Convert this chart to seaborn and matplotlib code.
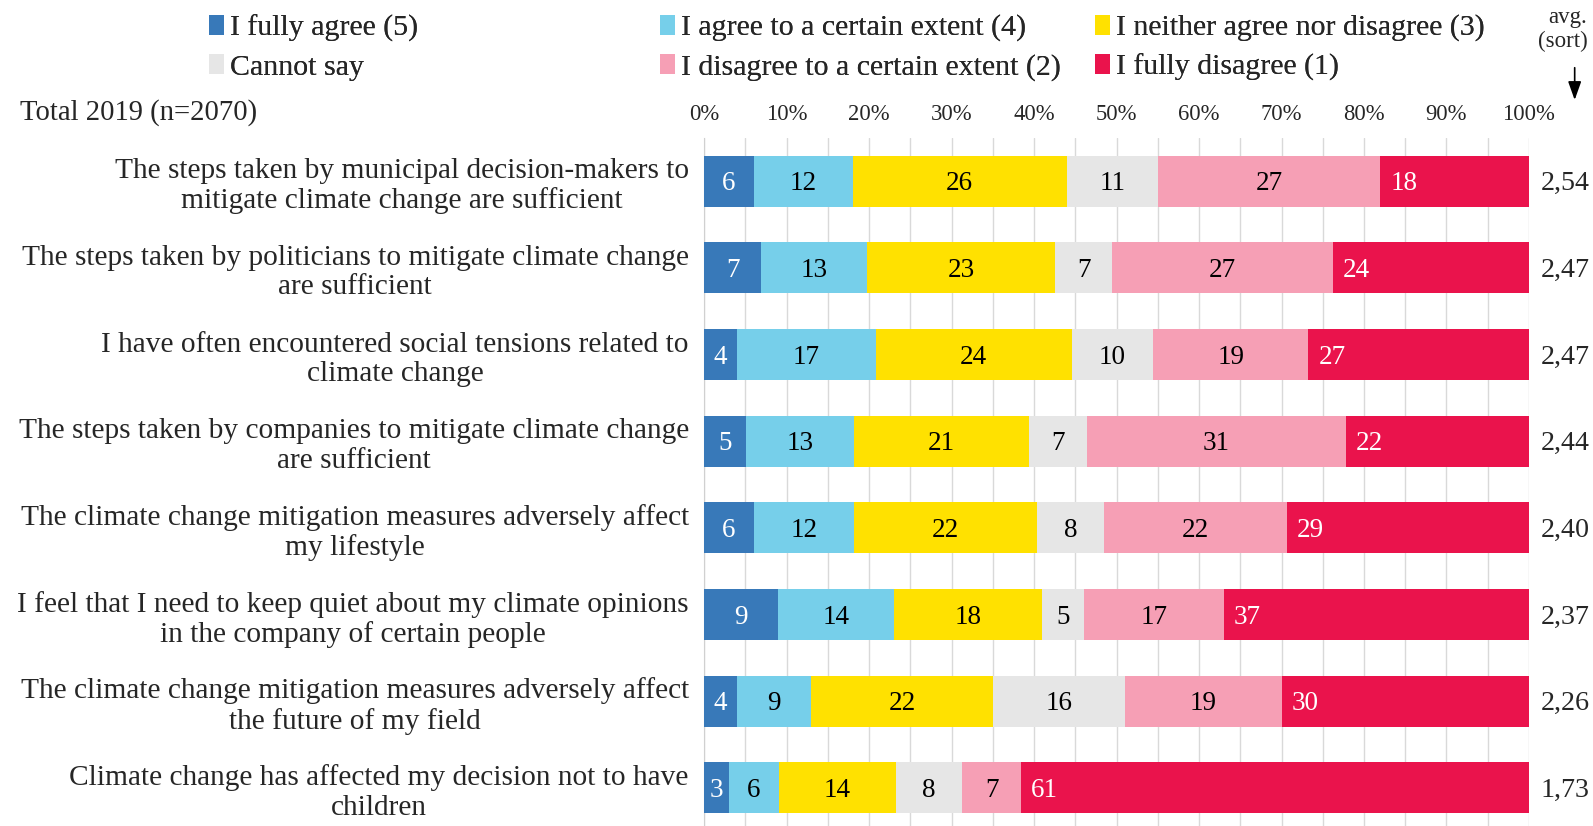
import numpy as np
import pandas as pd
import matplotlib
matplotlib.use("Agg")
import matplotlib.pyplot as plt
from matplotlib.patches import Patch, FancyArrowPatch
from matplotlib.ticker import MultipleLocator, FixedLocator
import seaborn as sns

sns.set_style("white")
plt.rcParams["font.family"] = ["Liberation Serif", "DejaVu Serif"]

statements = [
    "The steps taken by municipal decision-makers to\nmitigate climate change are sufficient",
    "The steps taken by politicians to mitigate climate change\nare sufficient",
    "I have often encountered social tensions related to\nclimate change",
    "The steps taken by companies to mitigate climate change\nare sufficient",
    "The climate change mitigation measures adversely affect\nmy lifestyle",
    "I feel that I need to keep quiet about my climate opinions\nin the company of certain people",
    "The climate change mitigation measures adversely affect\nthe future of my field",
    "Climate change has affected my decision not to have\nchildren",
]

responses = [
    "I fully agree (5)",
    "I agree to a certain extent (4)",
    "I neither agree nor disagree (3)",
    "Cannot say",
    "I disagree to a certain extent (2)",
    "I fully disagree (1)",
]

fully_agree = [6, 7, 4, 5, 6, 9, 4, 3]
agree_some = [12, 13, 17, 13, 12, 14, 9, 6]
neither = [26, 23, 24, 21, 22, 18, 22, 14]
cannot_say = [11, 7, 10, 7, 8, 5, 16, 8]
disagree_some = [27, 27, 19, 31, 22, 17, 19, 7]
fully_disagree = [18, 24, 27, 22, 29, 37, 30, 61]

averages = ["2,54", "2,47", "2,47", "2,44", "2,40", "2,37", "2,26", "1,73"]

colors = ["#3879b9", "#76cfea", "#ffe100", "#e6e6e6", "#f69fb5", "#ea134c"]
label_colors = ["white", "black", "black", "black", "black", "white"]

values = np.array([fully_agree, agree_some, neither, cannot_say,
                   disagree_some, fully_disagree], dtype=float)
shares = values / values.sum(axis=0)          # each row fills 100 %
cum = np.cumsum(shares, axis=0)

fig = plt.figure(figsize=(15.93, 8.26), dpi=100)
ax = fig.add_axes([0.442, 0.0, 0.5178, 0.833])

keys = [f"s{i}" for i in range(len(statements))]
# stacked bars: draw cumulative totals from the widest down
for k in range(len(responses) - 1, -1, -1):
    df = pd.DataFrame({"stmt": keys, "end": cum[k]})
    sns.barplot(data=df, x="end", y="stmt", order=keys, color=colors[k],
                saturation=1, width=0.59, linewidth=0, ax=ax, zorder=3)

# segment labels
for k in range(len(responses)):
    for i in range(len(statements)):
        start = cum[k, i] - shares[k, i]
        txt = f"{int(values[k, i])}"
        if k == len(responses) - 1:
            ax.text(start + 0.012, i + 0.03, txt, ha="left", va="center",
                    color=label_colors[k], fontsize=19.5, zorder=4)
        else:
            ax.text(start + shares[k, i] / 2, i + 0.03, txt, ha="center",
                    va="center", color=label_colors[k], fontsize=19.5, zorder=4)

ax.set_xlim(0, 1)
ax.set_ylim(7.44, -0.5)
ax.xaxis.set_major_locator(FixedLocator(np.arange(0, 1.01, 0.1)))
ax.xaxis.set_minor_locator(MultipleLocator(0.05))
ax.set_xticklabels([f"{p}%" for p in range(0, 101, 10)])
ax.xaxis.tick_top()
ax.tick_params(axis="x", which="both", length=0, pad=9, labelsize=16.3)
ax.grid(axis="x", which="both", color="#d9d9d9", linewidth=1, zorder=0)
ax.set_axisbelow(True)

ax.set_yticks(range(len(statements)))
ax.set_yticklabels(statements, fontsize=21.2, multialignment="center",
                   linespacing=1.17)
ax.yaxis.set_minor_locator(FixedLocator(np.arange(0.5, len(statements), 1)))
ax.tick_params(axis="y", which="major", length=0, pad=11)
ax.tick_params(axis="y", which="minor", length=5, color="#d0d0d0", width=1)
ax.set_xlabel("")
ax.set_ylabel("")

for side in ["top", "right", "bottom"]:
    ax.spines[side].set_visible(False)
ax.spines["left"].set_color("#d0d0d0")

# average score column
for i, a in enumerate(averages):
    ax.text(1.0145, i + 0.03, a, transform=ax.get_yaxis_transform(), ha="left",
            va="center", fontsize=20.2)

fig.text(0.9965, 0.964, "avg.\n(sort)", ha="right", va="center", fontsize=16.5,
         linespacing=1.2)
fig.add_artist(FancyArrowPatch(
    (0.9885, 0.918), (0.9885, 0.879), transform=fig.transFigure,
    arrowstyle="-|>,head_length=0.7,head_width=0.25", mutation_scale=16,
    shrinkA=0, shrinkB=0, color="black", linewidth=1.2))
fig.text(0.0125, 0.864, "Total 2019 (n=2070)", ha="left", va="center",
         fontsize=20.6)

# legend: three columns of two entries each
col_x = [0.124, 0.407, 0.680]
for c in range(3):
    idx = [c, c + 3]
    handles = [Patch(facecolor=colors[j], edgecolor="none") for j in idx]
    labels_ = [responses[j] for j in idx]
    leg = fig.legend(handles, labels_, loc="upper left",
                     bbox_to_anchor=(col_x[c], 0.997), frameon=False,
                     fontsize=21.5, handlelength=0.5, handleheight=0.65,
                     handletextpad=0.2, labelspacing=0.42, borderaxespad=0)
    fig.add_artist(leg)

fig.savefig("out.png", dpi=100)
